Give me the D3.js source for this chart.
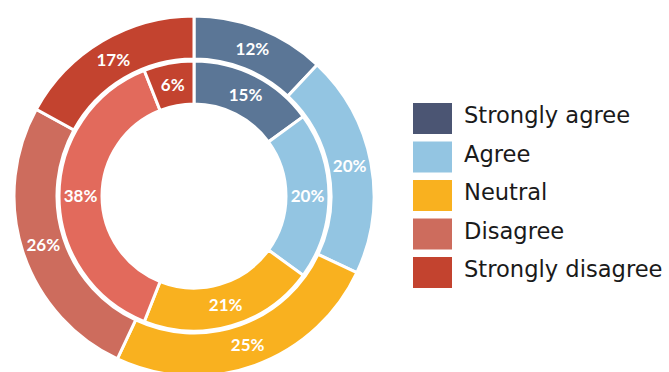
<!DOCTYPE html>
<html>
<head>
<meta charset="utf-8">
<script src="https://cdn.jsdelivr.net/npm/d3@7"></script>
<style>
  body { margin: 0; background: #fff; }
  svg { display: block; }
</style>
</head>
<body>
<svg id="chart" width="669" height="372"></svg>
<script>
// ---- data ----
var categories = ["Strongly agree", "Agree", "Neutral", "Disagree", "Strongly disagree"];
var outerValues = [12, 20, 25, 26, 17];
var innerValues = [15, 20, 21, 38, 6];
var outerColors = ["#5b7696", "#93c5e2", "#f9b11f", "#cd6c5d", "#c3432f"];
var innerColors = ["#5b7696", "#93c5e2", "#f9b11f", "#e26a5c", "#c3432f"];
var legendColors = ["#4b5573", "#93c5e2", "#f9b11f", "#cd6c5d", "#c3432f"];

// ---- layout ----
var cx = 194, cy = 196;
var rings = [
  { values: outerValues, colors: outerColors, r0: 137, r1: 180 },
  { values: innerValues, colors: innerColors, r0: 92, r1: 135 }
];

var svg = d3.select("#chart");
var g = svg.append("g").attr("transform", `translate(${cx},${cy})`);

var pie = d3.pie().sort(null).value(d => d);

rings.forEach(function(ring, ri) {
  var arc = d3.arc().innerRadius(ring.r0).outerRadius(ring.r1);
  var labelArc = d3.arc().innerRadius((ring.r0 + ring.r1) / 2).outerRadius((ring.r0 + ring.r1) / 2);
  var arcs = pie(ring.values);

  g.selectAll(`path.ring${ri}`)
    .data(arcs)
    .join("path")
      .attr("class", `ring${ri}`)
      .attr("d", arc)
      .style("fill", (d, i) => ring.colors[i])
      .style("stroke", "#fff")
      .style("stroke-width", 3);

  g.selectAll(`text.ring${ri}`)
    .data(arcs)
    .join("text")
      .attr("class", `ring${ri}`)
      .attr("transform", d => `translate(${labelArc.centroid(d)})`)
      .attr("text-anchor", "middle")
      .attr("dy", "0.36em")
      .style("fill", "#fff")
      .style("font-family", "Lato, sans-serif")
      .style("font-weight", "bold")
      .style("font-size", "17px")
      .text(d => d.data + "%");
});

// circle between rings
g.append("circle")
  .attr("r", 136)
  .style("fill", "none")
  .style("stroke", "#fff")
  .style("stroke-width", 3);

// ---- legend ----
var legend = svg.append("g").attr("transform", "translate(413,103)");
var rowGap = 38.5;

legend.selectAll("rect")
  .data(categories)
  .join("rect")
    .attr("x", 0)
    .attr("y", (d, i) => i * rowGap)
    .attr("width", 39)
    .attr("height", 31)
    .style("fill", (d, i) => legendColors[i]);

legend.selectAll("text")
  .data(categories)
  .join("text")
    .attr("x", 51)
    .attr("y", (d, i) => i * rowGap + 20)
    .style("fill", "#1a1a1a")
    .style("font-family", "'DejaVu Sans', sans-serif")
    .style("font-size", "22.6px")
    .text(d => d);
</script>
</body>
</html>
